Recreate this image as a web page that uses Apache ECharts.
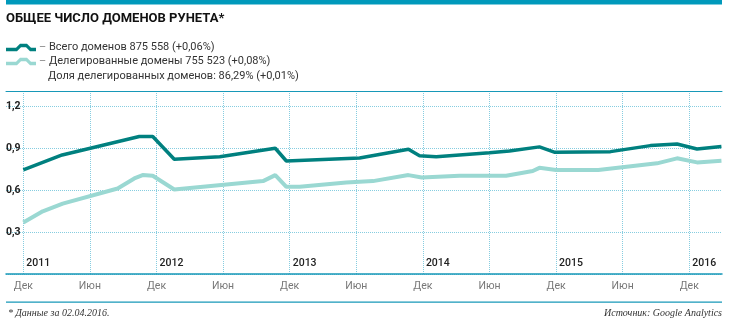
<!DOCTYPE html>
<html>
<head>
<meta charset="utf-8">
<script src="https://cdn.jsdelivr.net/npm/echarts@6/dist/echarts.min.js"></script>
<style>html,body{margin:0;padding:0;background:#fff}#c{width:733px;height:326px}</style>
</head>
<body>
<div id="c"></div>
<script>
// Months counted from the "Дек" line at the start (Dec 2010 boundary = 0)
const totalMonths = [0, 3.5, 10.45, 11.66, 13.6, 17.7, 22.7, 23.7, 30.3, 34.7, 35.7, 37.2, 42.0, 43.8, 46.5, 47.9, 52.9, 56.5, 58.9, 60.7, 62.9];
const totalValues = [0.745, 0.852, 0.984, 0.984, 0.821, 0.84, 0.9, 0.809, 0.83, 0.893, 0.847, 0.84, 0.868, 0.88, 0.91, 0.871, 0.876, 0.919, 0.931, 0.895, 0.912];
const delegMonths = [0, 1.75, 3.55, 8.5, 10.0, 10.75, 11.66, 13.6, 21.6, 22.7, 23.7, 24.9, 29.1, 31.5, 34.7, 35.9, 39.3, 43.5, 45.9, 46.5, 48.0, 51.8, 57.1, 58.9, 60.7, 62.9];
const delegValues = [0.368, 0.449, 0.504, 0.612, 0.684, 0.708, 0.703, 0.605, 0.665, 0.708, 0.624, 0.624, 0.655, 0.665, 0.708, 0.691, 0.703, 0.703, 0.737, 0.76, 0.744, 0.744, 0.792, 0.828, 0.799, 0.811];
const monthTicks = [0, 6, 12, 18, 24, 30, 36, 42, 48, 54, 60];
const monthLabels = ['Дек', 'Июн', 'Дек', 'Июн', 'Дек', 'Июн', 'Дек', 'Июн', 'Дек', 'Июн', 'Дек'];
const yearTicks = [0, 12, 24, 36, 48, 60];
const yearLabels = ['2011', '2012', '2013', '2014', '2015', '2016'];
const seriesNames = ['Всего доменов 875 558 (+0,06%)', 'Делегированные домены 755 523 (+0,08%)'];
const shareText = 'Доля делегированных доменов: 86,29% (+0,01%)';
const titleText = 'ОБЩЕЕ ЧИСЛО ДОМЕНОВ РУНЕТА*';
const noteText = '* Данные за 02.04.2016.';
const sourceText = 'Источник: Google Analytics';

const zip = (a, b) => a.map((m, i) => [m, b[i]]);
const XMIN = -1.56, XMAX = 62.95;
const grid = '#86cde0';
const axisBlue = '#1798b8';
const font = 'Roboto';

const chart = echarts.init(document.getElementById('c'), null, {renderer: 'canvas'});
chart.setOption({
  animation: false,
  textStyle: {fontFamily: font},
  grid: {left: 6, right: 11, top: 91, bottom: 52},
  legend: {
    orient: 'vertical', left: 6, top: 41, padding: 0, itemWidth: 30, itemHeight: 8, itemGap: 1,
    selectedMode: false,
    icon: 'path://M0 5 L10 5 L14 1 L21 1 L25 5 L30 5 L30 8.5 L24 8.5 L20 4.5 L15 4.5 L11 8.5 L0 8.5 Z',
    data: seriesNames,
    formatter: n => '{d|–} ' + n,
    textStyle: {fontSize: 11, color: '#333', lineHeight: 13, fontFamily: font, padding: [0, 0, 0, -2],
      rich: {d: {color: '#888', fontSize: 11, lineHeight: 13, fontFamily: font}}}
  },
  xAxis: [
    {
      type: 'value', min: XMIN, max: XMAX, position: 'bottom',
      axisLine: {show: true, lineStyle: {color: axisBlue, width: 1.5}},
      axisTick: {show: false, customValues: monthTicks},
      splitLine: {show: true, lineStyle: {color: grid, type: [1, 1], width: 1}},
      axisLabel: {customValues: monthTicks, margin: 7, fontSize: 10.5, color: '#777', fontFamily: font,
        formatter: v => monthLabels[monthTicks.indexOf(Math.round(v))] || ''}
    },
    {
      type: 'value', min: XMIN, max: XMAX, position: 'bottom',
      axisLine: {show: false}, axisTick: {show: false, customValues: yearTicks}, splitLine: {show: false},
      axisLabel: {customValues: yearTicks, inside: true, margin: 5, align: 'left', padding: [0, 0, 0, 3],
        fontSize: 10.5, fontWeight: 500, color: '#222', fontFamily: font,
        formatter: v => yearLabels[yearTicks.indexOf(Math.round(v))] || ''}
    },
    {
      type: 'value', min: XMIN, max: XMAX, position: 'top',
      axisLine: {show: true, lineStyle: {color: axisBlue, width: 1}},
      axisTick: {show: false}, splitLine: {show: false}, axisLabel: {show: false}
    }
  ],
  yAxis: {
    type: 'value', min: 0, max: 1.31, interval: 0.3,
    axisLine: {show: false}, axisTick: {show: false},
    splitLine: {show: true, lineStyle: {color: grid, type: [1, 1], width: 1}},
    axisLabel: {inside: true, margin: 0, align: 'left', verticalAlign: 'middle', padding: [0, 0, 6, 0],
      fontSize: 10.5, fontWeight: 'bold', color: '#222', fontFamily: font,
      formatter: v => (v < 0.01 || v > 1.25) ? '' : v.toFixed(1).replace('.', ',')}
  },
  series: [
    {
      name: seriesNames[0], type: 'line', data: zip(totalMonths, totalValues), xAxisIndex: 0,
      symbol: 'none', color: '#00807f', lineStyle: {color: '#00807f', width: 3.5}, z: 3
    },
    {
      name: seriesNames[1], type: 'line', data: zip(delegMonths, delegValues), xAxisIndex: 0,
      symbol: 'none', color: '#9ad8d2', lineStyle: {color: '#9ad8d2', width: 4}, z: 2
    }
  ],
  graphic: [
    {type: 'rect', shape: {x: 6, y: 0, width: 716, height: 4.5}, style: {fill: '#0099bb'}, silent: true},
    {type: 'text', left: 6, top: 12, style: {text: titleText, font: 'bold 13px Roboto', fill: '#111'}},
    {type: 'text', left: 48, top: 71, style: {text: shareText, font: '11px Roboto', fill: '#333'}},
    {type: 'rect', shape: {x: 6, y: 301.5, width: 716, height: 1.2}, style: {fill: axisBlue}, silent: true},
    {type: 'text', left: 8, top: 308, style: {text: noteText, font: 'italic 10px "Liberation Serif"', fill: '#333'}},
    {type: 'text', right: 11, top: 308, style: {text: sourceText, font: 'italic 10px "Liberation Serif"', fill: '#333'}}
  ]
});
</script>
</body>
</html>
